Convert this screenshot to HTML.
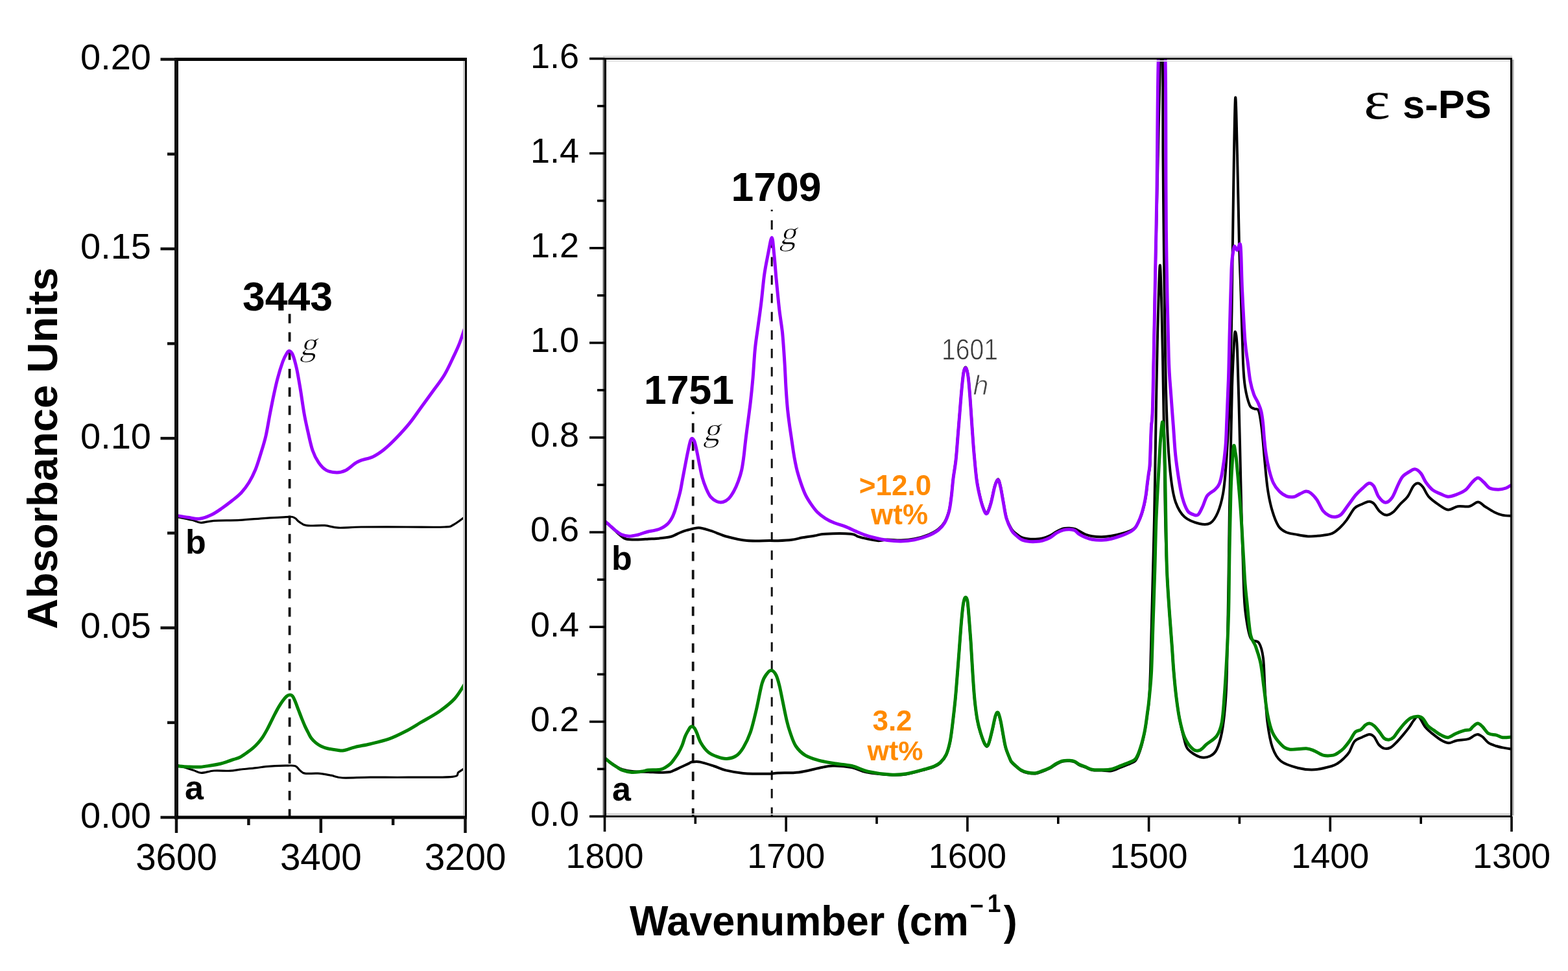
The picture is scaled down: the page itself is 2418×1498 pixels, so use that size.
<!DOCTYPE html>
<html><head><meta charset="utf-8"><title>IR spectra</title>
<style>html,body{margin:0;padding:0;background:#fff;}svg{display:block;}.s{font-family:"Liberation Sans",Arial,sans-serif;}.b{font-family:"Liberation Sans",Arial,sans-serif;font-weight:bold;}.si{font-family:"Liberation Sans",Arial,sans-serif;font-style:italic;}.r{font-family:"Liberation Serif","Times New Roman",serif;}</style></head><body>
<svg width="2418" height="1498" viewBox="0 0 2418 1498">
<rect width="2418" height="1498" fill="#fff"/>
<defs><clipPath id="cl"><rect x="272.0" y="91.5" width="445.5" height="1169.5"/></clipPath><clipPath id="cr"><rect x="932.5" y="90.5" width="1398.5" height="1169.0"/></clipPath></defs>
<g stroke="#111" fill="none" stroke-dasharray="14.5 13.8">
<line x1="446.6" y1="484.2" x2="446.6" y2="1261.0" stroke-width="3.8" stroke-dashoffset="0"/>
<line x1="1068.7" y1="635" x2="1068.7" y2="1259.5" stroke-width="3.8" stroke-dashoffset="10.5"/>
<line x1="1190.2" y1="323.6" x2="1190.2" y2="1259.5" stroke-width="3.0" stroke-dashoffset="12.1"/>
</g>
<path d="M272.0 1179.8 C274.2 1180.5 280.5 1182.5 285.0 1184.0 C289.5 1185.5 294.6 1187.1 298.9 1188.5 C303.1 1189.9 305.3 1192.3 310.5 1192.4 C315.7 1192.5 322.6 1189.5 330.0 1189.0 C337.4 1188.5 348.3 1189.5 355.0 1189.2 C361.7 1188.9 363.3 1188.0 370.0 1187.2 C376.7 1186.5 388.4 1185.5 395.1 1184.7 C401.8 1184.0 402.6 1183.3 410.1 1182.7 C417.6 1182.1 432.7 1181.4 440.2 1181.2 C447.7 1181.0 451.5 1180.5 455.2 1181.7 C458.9 1182.9 459.7 1186.3 462.2 1188.2 C464.7 1190.1 465.5 1192.4 470.2 1193.2 C474.9 1194.0 483.5 1192.7 490.2 1193.2 C496.9 1193.7 504.0 1195.1 510.3 1196.2 C516.6 1197.3 518.1 1199.5 528.2 1200.0 C538.3 1200.5 554.1 1199.3 571.0 1199.2 C587.9 1199.1 608.2 1199.4 629.3 1199.2 C650.3 1199.0 684.3 1199.6 697.3 1198.3 C710.2 1197.0 703.5 1193.8 707.0 1191.4 C710.5 1189.0 716.2 1185.2 718.0 1184.0" fill="none" stroke="#000000" stroke-width="3.2" stroke-linejoin="round" stroke-linecap="round" clip-path="url(#cl)"/>
<path d="M272.0 797.3 C276.0 798.1 289.7 800.8 296.0 802.3 C302.3 803.8 304.3 806.1 310.0 806.3 C315.7 806.5 320.0 804.0 330.0 803.3 C340.0 802.6 356.7 803.0 370.0 802.3 C383.3 801.6 397.3 800.1 410.0 799.3 C422.7 798.5 439.2 797.5 446.2 797.3 C453.1 797.0 450.1 797.3 451.7 797.8 C453.3 798.2 454.4 798.8 456.0 800.0 C457.6 801.2 458.2 803.0 461.0 804.8 C463.8 806.6 466.1 809.7 472.7 810.7 C479.3 811.7 492.6 810.1 500.8 810.7 C509.0 811.3 512.4 813.8 521.8 814.2 C531.1 814.6 539.4 813.2 556.9 813.0 C574.4 812.8 605.6 813.0 627.0 813.0 C648.4 813.0 673.3 813.6 685.4 813.0 C697.5 812.4 694.0 812.2 699.4 809.5 C704.8 806.8 714.9 798.7 718.0 796.5" fill="none" stroke="#000000" stroke-width="3.2" stroke-linejoin="round" stroke-linecap="round" clip-path="url(#cl)"/>
<path d="M272.0 1181.7 C275.0 1181.9 283.9 1182.8 290.0 1183.0 C296.1 1183.2 302.8 1183.5 308.6 1183.2 C314.4 1182.9 319.8 1181.8 325.0 1181.0 C330.2 1180.2 335.8 1179.2 340.0 1178.2 C344.2 1177.2 346.7 1176.3 350.0 1175.2 C353.3 1174.1 356.7 1172.9 360.0 1171.7 C363.3 1170.5 366.7 1169.9 370.0 1168.2 C373.3 1166.5 376.7 1164.0 380.0 1161.7 C383.3 1159.4 387.0 1156.8 390.0 1154.2 C393.0 1151.6 395.6 1148.9 398.1 1146.1 C400.6 1143.2 402.8 1140.6 405.1 1137.1 C407.4 1133.6 409.9 1129.1 412.1 1125.1 C414.3 1121.1 416.1 1117.1 418.1 1113.1 C420.1 1109.1 422.1 1104.9 424.1 1101.1 C426.1 1097.3 428.1 1093.4 430.1 1090.1 C432.1 1086.8 434.1 1083.7 436.1 1081.0 C438.1 1078.3 440.4 1075.5 442.2 1074.0 C444.0 1072.5 445.7 1072.0 447.2 1072.0 C448.7 1072.0 449.9 1072.3 451.2 1074.0 C452.5 1075.7 453.7 1078.5 455.2 1082.0 C456.7 1085.5 458.5 1090.8 460.2 1095.1 C461.9 1099.4 463.5 1103.9 465.2 1108.1 C466.9 1112.3 468.5 1116.4 470.2 1120.1 C471.9 1123.8 473.5 1126.9 475.2 1130.1 C476.9 1133.3 478.2 1136.4 480.2 1139.1 C482.2 1141.8 484.7 1144.1 487.2 1146.1 C489.7 1148.1 492.2 1149.8 495.2 1151.2 C498.2 1152.6 501.0 1153.7 505.2 1154.7 C509.4 1155.7 516.2 1156.7 520.3 1157.2 C524.4 1157.7 525.5 1158.6 530.0 1157.8 C534.5 1157.0 540.8 1154.3 547.6 1152.6 C554.4 1150.9 562.2 1149.8 571.0 1147.7 C579.8 1145.6 591.0 1143.1 600.1 1139.9 C609.2 1136.7 617.3 1132.5 625.4 1128.3 C633.5 1124.1 640.0 1119.9 648.7 1114.7 C657.5 1109.5 669.1 1103.4 677.9 1097.2 C686.6 1091.0 694.5 1085.1 701.2 1077.7 C707.9 1070.3 715.2 1057.1 718.0 1053.0" fill="none" stroke="#008200" stroke-width="5.0" stroke-linejoin="round" stroke-linecap="round" clip-path="url(#cl)"/>
<path d="M272.0 795.3 C275.0 795.8 284.0 797.5 290.0 798.3 C296.0 799.1 302.0 801.0 308.0 800.3 C314.0 799.6 320.3 797.0 326.0 794.3 C331.7 791.6 336.7 788.0 342.0 784.3 C347.3 780.6 353.0 776.3 358.0 772.3 C363.0 768.3 367.7 764.9 372.0 760.2 C376.3 755.5 380.3 750.2 384.0 744.2 C387.7 738.2 391.0 731.5 394.0 724.2 C397.0 716.9 399.3 708.9 402.0 700.2 C404.7 691.5 407.7 682.2 410.0 672.2 C412.3 662.2 414.0 650.5 416.0 640.1 C418.0 629.8 420.0 619.4 422.0 610.1 C424.0 600.8 425.7 592.8 428.0 584.1 C430.3 575.4 433.7 564.4 436.0 558.0 C438.3 551.6 440.3 548.2 442.0 545.5 C443.7 542.8 444.4 541.2 446.0 541.5 C447.6 541.8 449.6 543.0 451.5 547.5 C453.4 552.0 455.5 559.8 457.5 568.8 C459.5 577.8 461.4 589.8 463.4 601.5 C465.3 613.2 467.2 628.0 469.2 638.9 C471.1 649.8 473.0 657.6 475.1 667.0 C477.2 676.4 479.4 687.2 482.1 695.0 C484.8 702.8 487.9 708.6 491.4 713.7 C494.9 718.8 498.4 722.9 503.1 725.4 C507.8 727.9 514.4 728.9 519.5 728.9 C524.6 728.9 528.8 727.7 533.5 725.4 C538.2 723.1 543.6 717.4 547.5 714.9 C551.4 712.4 552.2 712.0 556.9 710.2 C561.6 708.5 569.7 707.1 575.5 704.4 C581.3 701.7 586.0 698.5 591.9 693.8 C597.8 689.1 604.0 683.1 610.6 676.3 C617.2 669.5 625.0 661.1 631.6 652.9 C638.2 644.7 644.1 635.8 650.3 627.2 C656.5 618.6 663.1 609.7 669.0 601.5 C674.9 593.3 680.3 586.8 685.4 578.2 C690.5 569.6 695.5 558.3 699.4 550.1 C703.3 541.9 705.7 537.1 708.8 529.1 C711.9 521.1 716.5 506.5 718.0 502.0" fill="none" stroke="#9900ff" stroke-width="5.0" stroke-linejoin="round" stroke-linecap="round" clip-path="url(#cl)"/>
<path d="M932.9 1169.5 C934.2 1170.6 938.0 1174.0 941.0 1176.2 C944.0 1178.4 947.5 1180.7 950.6 1182.5 C953.7 1184.3 955.3 1185.5 959.4 1186.8 C963.5 1188.0 968.3 1189.3 975.0 1190.0 C981.7 1190.7 992.5 1190.7 999.7 1191.0 C1006.9 1191.3 1012.6 1191.8 1018.1 1191.8 C1023.6 1191.8 1029.1 1191.6 1032.8 1191.0 C1036.5 1190.4 1037.0 1189.4 1040.1 1188.1 C1043.1 1186.8 1047.4 1184.7 1051.1 1183.0 C1054.8 1181.3 1059.5 1179.0 1062.2 1177.8 C1064.9 1176.6 1064.3 1176.0 1067.3 1175.6 C1070.3 1175.2 1074.3 1174.5 1080.0 1175.6 C1085.7 1176.7 1094.8 1179.9 1101.3 1182.0 C1107.8 1184.1 1111.8 1186.6 1119.3 1188.4 C1126.8 1190.2 1135.8 1192.0 1146.3 1192.9 C1156.8 1193.8 1173.5 1193.8 1182.4 1193.8 C1191.4 1193.8 1191.7 1193.0 1200.0 1192.6 C1208.3 1192.2 1221.7 1192.6 1232.0 1191.4 C1242.3 1190.2 1253.0 1186.9 1261.7 1185.2 C1270.4 1183.5 1275.3 1181.7 1284.0 1181.5 C1292.7 1181.3 1305.0 1182.3 1313.6 1184.0 C1322.2 1185.7 1325.9 1189.5 1335.8 1191.4 C1345.7 1193.3 1362.5 1195.0 1372.8 1195.5 C1383.1 1196.0 1388.4 1195.9 1397.5 1194.5 C1406.6 1193.1 1420.1 1188.9 1427.2 1187.0 C1434.3 1185.1 1436.2 1184.8 1440.0 1183.2 C1443.8 1181.6 1446.8 1180.2 1450.0 1177.2 C1453.2 1174.2 1456.5 1170.6 1459.0 1165.2 C1461.5 1159.8 1463.3 1153.1 1465.0 1145.1 C1466.7 1137.1 1467.7 1127.8 1469.0 1117.1 C1470.3 1106.4 1471.8 1093.1 1473.0 1081.1 C1474.2 1069.1 1475.0 1057.7 1476.0 1045.0 C1477.0 1032.3 1478.1 1018.2 1479.1 1004.9 C1480.1 991.5 1481.1 976.6 1482.1 964.9 C1483.1 953.2 1484.1 941.8 1485.1 934.8 C1486.1 927.8 1487.0 924.1 1488.1 922.8 C1489.2 921.5 1490.7 922.1 1491.7 926.8 C1492.7 931.5 1493.2 940.2 1494.1 950.9 C1495.0 961.6 1496.1 975.9 1497.1 990.9 C1498.1 1005.9 1499.1 1026.0 1500.1 1041.0 C1501.1 1056.0 1501.9 1069.4 1503.1 1081.1 C1504.3 1092.8 1505.6 1102.8 1507.1 1111.1 C1508.6 1119.4 1510.1 1124.8 1512.1 1131.1 C1514.1 1137.4 1517.1 1146.2 1519.1 1149.2 C1521.1 1152.2 1522.3 1152.9 1524.1 1149.2 C1525.9 1145.5 1528.3 1134.4 1530.1 1127.1 C1531.9 1119.8 1533.6 1109.6 1535.1 1105.1 C1536.6 1100.6 1537.8 1098.8 1539.1 1100.1 C1540.4 1101.4 1541.8 1107.3 1543.1 1113.1 C1544.4 1118.9 1545.8 1128.1 1547.1 1135.1 C1548.4 1142.1 1549.3 1148.8 1551.2 1155.2 C1553.1 1161.6 1556.7 1169.7 1558.2 1173.2 C1559.7 1176.7 1558.7 1174.6 1560.0 1176.1 C1561.3 1177.6 1563.5 1179.8 1566.0 1182.0 C1568.5 1184.2 1571.8 1187.2 1574.9 1189.0 C1578.0 1190.8 1581.2 1191.8 1584.8 1192.5 C1588.4 1193.2 1592.9 1193.9 1596.7 1193.5 C1600.5 1193.1 1603.8 1191.4 1607.6 1190.0 C1611.4 1188.6 1615.9 1186.9 1619.6 1185.0 C1623.2 1183.1 1626.2 1180.3 1629.5 1178.6 C1632.8 1176.9 1636.1 1175.3 1639.4 1174.6 C1642.7 1173.8 1646.3 1173.9 1649.3 1174.1 C1652.3 1174.3 1654.8 1174.6 1657.3 1175.6 C1659.8 1176.6 1661.4 1178.7 1664.2 1180.1 C1667.0 1181.5 1670.8 1182.7 1674.1 1184.0 C1677.4 1185.3 1679.9 1187.2 1684.1 1188.0 C1688.2 1188.8 1694.0 1188.3 1699.0 1188.5 C1704.0 1188.7 1708.8 1190.0 1713.8 1189.2 C1718.8 1188.4 1723.7 1185.6 1728.7 1183.7 C1733.7 1181.8 1739.9 1179.5 1743.6 1177.8 C1747.2 1176.1 1748.6 1175.9 1750.6 1173.8 C1752.6 1171.7 1753.8 1168.9 1755.5 1164.9 C1757.2 1160.9 1759.0 1155.4 1760.5 1150.0 C1762.0 1144.6 1763.3 1138.2 1764.5 1132.4 C1765.7 1126.7 1766.6 1120.8 1767.4 1115.5 C1768.2 1110.2 1768.7 1106.5 1769.4 1100.7 C1770.2 1094.9 1771.1 1091.6 1771.9 1080.8 C1772.7 1070.0 1773.3 1056.5 1774.0 1036.0 C1774.7 1015.5 1775.3 984.0 1776.0 958.0 C1776.7 932.0 1777.3 906.3 1778.0 880.0 C1778.7 853.7 1779.4 830.0 1780.0 800.0 C1780.6 770.0 1781.2 730.0 1781.7 700.0 C1782.2 670.0 1782.5 650.0 1783.0 620.0 C1783.5 590.0 1784.1 554.8 1785.0 520.0 C1785.9 485.2 1787.5 421.0 1788.5 411.0 C1789.5 401.0 1790.2 436.8 1791.0 460.0 C1791.8 483.2 1792.2 510.0 1793.0 550.0 C1793.8 590.0 1794.8 658.3 1795.5 700.0 C1796.2 741.7 1796.3 770.0 1797.0 800.0 C1797.7 830.0 1798.4 855.8 1799.5 880.0 C1800.6 904.2 1802.1 925.5 1803.4 945.0 C1804.7 964.5 1806.2 981.8 1807.3 997.0 C1808.4 1012.2 1808.9 1023.0 1810.0 1036.0 C1811.1 1049.0 1812.4 1063.1 1813.9 1075.3 C1815.4 1087.5 1817.0 1098.4 1819.0 1109.2 C1821.0 1120.0 1823.8 1132.2 1826.0 1140.0 C1828.2 1147.8 1828.0 1151.4 1832.0 1156.0 C1836.0 1160.6 1844.6 1166.0 1850.3 1167.8 C1856.0 1169.5 1861.7 1168.5 1866.0 1166.5 C1870.3 1164.5 1873.4 1162.1 1876.4 1156.0 C1879.4 1149.9 1882.0 1141.3 1884.2 1130.0 C1886.4 1118.7 1888.1 1103.9 1889.4 1088.3 C1890.7 1072.7 1891.2 1067.7 1892.0 1036.3 C1892.8 1004.9 1893.7 942.1 1894.4 900.0 C1895.1 857.9 1895.4 818.5 1896.0 783.5 C1896.6 748.5 1897.3 721.1 1898.0 690.0 C1898.7 658.9 1899.2 623.4 1900.0 596.7 C1900.8 570.0 1902.2 544.1 1903.0 530.0 C1903.8 515.9 1904.2 510.3 1905.0 512.0 C1905.8 513.7 1906.8 511.5 1908.0 540.0 C1909.2 568.5 1911.0 642.4 1912.0 683.0 C1913.0 723.6 1913.3 747.3 1914.3 783.5 C1915.3 819.7 1916.8 873.1 1917.8 900.0 C1918.8 926.9 1918.8 931.0 1920.6 945.0 C1922.4 959.0 1924.9 976.2 1928.4 984.0 C1931.9 991.8 1938.2 986.8 1941.5 992.0 C1944.8 997.2 1946.5 1003.7 1948.0 1015.4 C1949.5 1027.1 1949.5 1045.8 1950.6 1062.3 C1951.7 1078.8 1952.5 1099.2 1954.5 1114.4 C1956.5 1129.6 1958.8 1143.4 1962.3 1153.4 C1965.8 1163.4 1968.8 1169.1 1975.3 1174.3 C1981.8 1179.5 1992.7 1182.5 2001.4 1184.7 C2010.1 1186.9 2018.7 1187.8 2027.4 1187.3 C2036.1 1186.8 2047.5 1183.6 2053.4 1182.0 C2059.3 1180.4 2059.9 1179.5 2063.0 1177.5 C2066.1 1175.5 2069.1 1173.0 2072.0 1170.2 C2074.9 1167.4 2077.6 1165.0 2080.4 1160.6 C2083.2 1156.2 2085.6 1147.6 2088.8 1143.8 C2092.0 1140.0 2095.9 1139.5 2099.7 1137.7 C2103.5 1135.9 2108.5 1133.1 2111.7 1132.9 C2114.9 1132.7 2116.5 1133.9 2118.9 1136.5 C2121.3 1139.1 2123.5 1145.6 2126.1 1148.6 C2128.7 1151.6 2131.5 1153.8 2134.5 1154.6 C2137.5 1155.4 2140.9 1155.0 2144.1 1153.4 C2147.3 1151.8 2150.5 1148.2 2153.7 1145.0 C2156.9 1141.8 2160.2 1137.9 2163.4 1134.1 C2166.6 1130.3 2170.2 1125.9 2173.0 1122.1 C2175.8 1118.3 2177.8 1114.1 2180.2 1111.3 C2182.6 1108.5 2184.4 1103.5 2187.4 1105.3 C2190.4 1107.1 2194.4 1117.5 2198.2 1122.1 C2202.0 1126.7 2206.0 1129.5 2210.2 1132.9 C2214.4 1136.3 2219.5 1140.3 2223.5 1142.5 C2227.5 1144.7 2230.5 1146.2 2234.3 1146.2 C2238.1 1146.2 2241.3 1143.5 2246.3 1142.5 C2251.3 1141.5 2259.9 1141.3 2264.3 1140.1 C2268.7 1138.9 2270.3 1136.5 2272.7 1135.3 C2275.1 1134.1 2276.6 1132.7 2278.8 1132.9 C2281.0 1133.1 2283.2 1134.3 2286.0 1136.5 C2288.8 1138.7 2292.0 1143.8 2295.6 1146.2 C2299.2 1148.6 2304.0 1149.8 2307.6 1151.0 C2311.2 1152.2 2313.3 1152.6 2317.2 1153.4 C2321.1 1154.2 2328.7 1155.4 2331.0 1155.8" fill="none" stroke="#000000" stroke-width="4.0" stroke-linejoin="round" stroke-linecap="round" clip-path="url(#cr)"/>
<path d="M932.3 804.0 C933.6 805.2 937.5 808.6 940.2 811.0 C942.9 813.4 946.1 816.2 948.6 818.5 C951.1 820.8 952.7 822.8 955.5 825.0 C958.3 827.2 960.6 830.2 965.4 831.5 C970.1 832.8 978.2 832.5 984.0 832.5 C989.8 832.5 995.3 831.8 1000.0 831.5 C1004.7 831.2 1006.7 831.5 1012.0 831.0 C1017.3 830.5 1027.3 829.4 1032.0 828.5 C1036.7 827.6 1037.3 826.9 1040.0 825.8 C1042.7 824.7 1045.3 823.1 1048.0 822.0 C1050.7 820.9 1054.0 819.6 1056.0 818.9 C1058.0 818.2 1056.4 818.6 1060.0 817.8 C1063.6 817.0 1071.5 814.0 1077.6 814.2 C1083.6 814.4 1089.0 816.6 1096.3 818.9 C1103.6 821.2 1112.3 825.5 1121.6 828.0 C1130.9 830.5 1141.1 833.0 1152.0 834.0 C1162.9 835.0 1179.0 834.0 1187.0 834.0 C1195.0 834.0 1194.3 834.4 1200.0 834.2 C1205.7 834.0 1214.7 833.6 1221.0 832.8 C1227.3 832.0 1232.1 830.3 1237.9 829.3 C1243.8 828.2 1250.3 827.4 1256.1 826.5 C1261.9 825.6 1263.6 824.2 1272.9 823.7 C1282.2 823.2 1303.8 823.0 1312.2 823.7 C1320.6 824.4 1319.2 826.6 1323.4 827.9 C1327.6 829.2 1332.3 830.3 1337.4 831.4 C1342.5 832.5 1349.1 834.0 1354.2 834.2 C1359.3 834.4 1362.4 832.6 1368.2 832.5 C1374.0 832.4 1382.3 833.7 1389.3 833.5 C1396.3 833.3 1403.3 832.7 1410.3 831.3 C1417.3 829.9 1425.2 827.5 1431.3 825.0 C1437.4 822.5 1442.5 819.8 1446.7 816.5 C1450.9 813.2 1453.8 810.3 1456.6 805.5 C1459.4 800.7 1461.8 794.2 1463.6 787.5 C1465.3 780.8 1466.0 773.8 1467.1 765.5 C1468.2 757.2 1468.8 746.9 1470.0 737.5 C1471.2 728.1 1472.8 719.9 1474.0 709.2 C1475.2 698.5 1476.0 685.6 1477.0 673.2 C1478.0 660.9 1479.1 647.5 1480.1 635.1 C1481.1 622.8 1482.1 609.5 1483.1 599.1 C1484.1 588.8 1485.0 578.4 1486.1 573.0 C1487.2 567.6 1488.5 565.7 1489.7 567.0 C1490.9 568.3 1492.0 573.0 1493.1 581.0 C1494.2 589.0 1495.1 602.1 1496.1 615.1 C1497.1 628.1 1498.1 645.2 1499.1 659.2 C1500.1 673.2 1500.9 685.9 1502.1 699.2 C1503.3 712.6 1504.6 728.3 1506.1 739.3 C1507.6 750.3 1509.3 757.6 1511.1 765.3 C1512.9 773.0 1515.3 781.0 1517.1 785.3 C1518.9 789.6 1520.3 793.0 1522.1 791.3 C1523.9 789.6 1526.1 782.3 1528.1 775.3 C1530.1 768.3 1532.3 755.3 1534.1 749.3 C1535.9 743.3 1537.6 739.0 1539.1 739.3 C1540.6 739.6 1541.8 745.6 1543.1 751.3 C1544.4 757.0 1545.6 765.3 1547.1 773.3 C1548.6 781.3 1550.0 792.2 1552.2 799.4 C1554.4 806.6 1557.7 812.4 1560.0 816.3 C1562.3 820.1 1563.5 820.4 1566.0 822.5 C1568.5 824.6 1571.8 827.2 1574.9 828.7 C1578.0 830.2 1581.2 830.7 1584.8 831.2 C1588.4 831.7 1592.9 831.8 1596.7 831.7 C1600.5 831.6 1603.8 831.5 1607.6 830.5 C1611.4 829.5 1615.9 827.8 1619.6 826.0 C1623.2 824.2 1626.2 821.8 1629.5 820.0 C1632.8 818.2 1636.1 816.4 1639.4 815.5 C1642.7 814.6 1646.3 814.7 1649.3 814.8 C1652.3 814.9 1654.8 815.2 1657.3 816.0 C1659.8 816.8 1661.4 817.9 1664.2 819.3 C1667.0 820.7 1670.8 823.2 1674.1 824.5 C1677.4 825.8 1679.9 826.6 1684.1 827.2 C1688.2 827.8 1694.0 828.3 1699.0 828.2 C1704.0 828.1 1708.8 827.5 1713.8 826.7 C1718.8 825.9 1723.7 824.9 1728.7 823.5 C1733.7 822.1 1739.9 820.2 1743.6 818.5 C1747.2 816.8 1748.6 815.7 1750.6 813.5 C1752.6 811.3 1753.8 808.7 1755.5 805.4 C1757.2 802.1 1759.0 797.9 1760.5 793.5 C1762.0 789.1 1763.3 784.1 1764.5 779.0 C1765.7 773.9 1766.6 768.5 1767.4 763.0 C1768.2 757.5 1768.7 751.3 1769.4 746.0 C1770.1 740.7 1770.7 736.0 1771.4 731.0 C1772.1 726.0 1772.8 727.8 1773.5 716.0 C1774.2 704.2 1774.6 676.0 1775.3 660.0 C1776.0 644.0 1776.8 655.0 1777.7 620.0 C1778.7 585.0 1779.7 511.7 1781.0 450.0 C1782.3 388.3 1784.2 309.8 1785.5 250.0 C1786.8 190.2 1788.1 126.0 1789.0 91.0 C1789.9 56.0 1790.3 40.0 1791.0 40.0 C1791.7 40.0 1792.6 58.3 1793.0 91.0 C1793.4 123.7 1793.2 184.5 1793.5 236.0 C1793.8 287.5 1794.5 356.0 1795.0 400.0 C1795.5 444.0 1795.8 466.7 1796.3 500.0 C1796.8 533.3 1797.2 570.0 1798.0 600.0 C1798.8 630.0 1799.7 656.7 1801.0 680.0 C1802.3 703.3 1804.0 724.2 1806.0 740.0 C1808.0 755.8 1809.5 765.4 1813.0 775.0 C1816.5 784.6 1820.5 792.0 1826.7 797.5 C1832.9 803.0 1843.4 806.4 1850.0 808.0 C1856.6 809.6 1861.7 809.9 1866.4 807.0 C1871.1 804.1 1874.7 798.3 1878.0 790.5 C1881.3 782.7 1884.1 772.8 1886.3 760.0 C1888.5 747.2 1889.7 731.0 1891.0 713.5 C1892.3 696.0 1893.4 674.5 1894.4 655.0 C1895.4 635.5 1896.2 625.9 1897.0 596.7 C1897.8 567.5 1898.7 529.5 1899.5 480.0 C1900.3 430.6 1901.1 354.8 1902.0 300.0 C1902.9 245.2 1904.0 161.5 1905.0 151.5 C1906.0 141.5 1907.0 201.9 1908.0 240.0 C1909.0 278.1 1910.1 345.0 1911.0 380.0 C1911.9 415.0 1912.5 420.0 1913.5 450.0 C1914.5 480.0 1915.9 535.5 1917.0 560.0 C1918.1 584.5 1918.3 585.9 1920.0 596.7 C1921.7 607.5 1924.7 619.1 1927.0 624.7 C1929.3 630.4 1931.7 629.1 1934.0 630.6 C1936.3 632.1 1939.0 628.8 1941.0 634.0 C1943.0 639.2 1944.2 648.8 1945.8 662.0 C1947.4 675.2 1949.0 697.9 1950.5 713.5 C1952.0 729.1 1953.1 743.0 1955.0 755.5 C1956.9 768.0 1959.2 778.9 1962.0 788.2 C1964.8 797.6 1968.0 806.1 1971.5 811.6 C1975.0 817.1 1978.8 818.9 1983.2 821.0 C1987.6 823.1 1992.2 823.3 1997.9 824.4 C2003.6 825.5 2010.2 827.1 2017.2 827.4 C2024.2 827.6 2033.4 826.6 2039.6 825.9 C2045.8 825.1 2049.9 824.9 2054.4 822.9 C2058.9 820.9 2062.6 817.5 2066.3 814.0 C2070.0 810.5 2073.1 807.1 2076.8 802.1 C2080.5 797.1 2085.0 788.2 2088.7 784.2 C2092.4 780.2 2095.4 780.0 2099.1 778.3 C2102.8 776.6 2107.8 774.0 2111.0 773.8 C2114.2 773.5 2115.8 774.3 2118.5 776.8 C2121.2 779.3 2124.2 785.7 2127.4 788.7 C2130.6 791.7 2134.3 794.4 2137.8 794.6 C2141.3 794.9 2144.7 792.9 2148.2 790.2 C2151.7 787.5 2155.0 782.3 2158.7 778.3 C2162.4 774.3 2167.1 771.0 2170.6 766.3 C2174.1 761.6 2176.8 753.5 2179.5 750.0 C2182.2 746.5 2184.4 745.2 2186.9 745.5 C2189.4 745.8 2191.7 748.0 2194.4 751.5 C2197.1 755.0 2199.3 761.8 2203.3 766.3 C2207.3 770.8 2213.2 774.9 2218.2 778.3 C2223.2 781.6 2228.1 785.9 2233.1 786.4 C2238.1 786.9 2242.6 782.1 2248.0 781.2 C2253.4 780.3 2260.6 782.3 2265.8 781.2 C2271.0 780.1 2275.2 774.5 2279.2 774.5 C2283.2 774.5 2285.5 778.6 2289.7 781.2 C2293.9 783.8 2300.0 788.0 2304.5 790.2 C2309.0 792.4 2312.1 793.6 2316.5 794.6 C2320.9 795.6 2328.6 795.8 2331.0 796.0" fill="none" stroke="#000000" stroke-width="4.0" stroke-linejoin="round" stroke-linecap="round" clip-path="url(#cr)"/>
<path d="M932.9 1169.7 C934.2 1170.8 938.0 1174.2 941.0 1176.4 C944.0 1178.6 947.5 1181.0 950.6 1183.0 C953.7 1185.0 955.5 1186.7 959.4 1188.1 C963.3 1189.5 969.2 1191.0 974.1 1191.4 C979.0 1191.8 984.4 1190.8 988.7 1190.3 C993.0 1189.8 996.2 1188.5 999.7 1188.1 C1003.2 1187.7 1006.9 1187.9 1010.0 1187.8 C1013.1 1187.7 1015.5 1187.8 1018.1 1187.2 C1020.7 1186.6 1022.7 1186.0 1025.4 1184.4 C1028.1 1182.8 1031.8 1180.1 1034.3 1177.8 C1036.8 1175.5 1038.1 1173.2 1040.1 1170.5 C1042.0 1167.8 1044.0 1165.1 1046.0 1161.7 C1048.0 1158.3 1050.2 1154.1 1051.9 1149.9 C1053.6 1145.7 1054.8 1140.4 1056.3 1136.7 C1057.8 1133.0 1059.3 1130.4 1060.7 1127.9 C1062.1 1125.5 1063.3 1123.2 1064.4 1122.0 C1065.5 1120.8 1066.2 1120.7 1067.3 1120.9 C1068.4 1121.2 1069.8 1121.8 1071.0 1123.5 C1072.2 1125.2 1073.0 1127.0 1074.6 1130.8 C1076.2 1134.5 1077.9 1141.1 1080.8 1146.0 C1083.7 1150.9 1087.9 1156.8 1092.2 1160.4 C1096.5 1164.0 1101.9 1166.0 1106.7 1167.7 C1111.5 1169.4 1116.2 1170.7 1121.0 1170.4 C1125.8 1170.1 1131.3 1168.8 1135.5 1165.9 C1139.7 1163.0 1142.7 1159.2 1146.3 1153.2 C1149.9 1147.2 1153.9 1139.4 1157.2 1129.8 C1160.5 1120.2 1163.2 1108.1 1166.2 1095.5 C1169.2 1082.9 1172.5 1063.3 1175.2 1054.0 C1177.9 1044.7 1180.0 1043.0 1182.4 1039.7 C1184.8 1036.4 1187.2 1034.0 1189.6 1034.3 C1192.0 1034.6 1194.7 1037.5 1196.8 1041.5 C1198.9 1045.5 1200.3 1051.2 1202.0 1058.0 C1203.7 1064.8 1205.1 1073.0 1207.0 1082.0 C1208.9 1091.0 1211.4 1104.0 1213.3 1112.0 C1215.2 1120.0 1216.2 1123.5 1218.5 1130.0 C1220.8 1136.5 1223.3 1145.1 1227.2 1151.0 C1231.1 1156.9 1236.2 1161.8 1242.0 1165.4 C1247.8 1169.0 1254.3 1170.7 1261.7 1172.8 C1269.1 1174.9 1277.8 1176.3 1286.4 1177.8 C1295.1 1179.2 1304.9 1179.5 1313.6 1181.5 C1322.2 1183.5 1328.4 1187.8 1338.3 1190.1 C1348.2 1192.3 1362.9 1194.4 1372.8 1195.0 C1382.7 1195.6 1388.4 1195.2 1397.5 1193.8 C1406.6 1192.4 1420.1 1188.3 1427.2 1186.4 C1434.3 1184.5 1436.2 1184.1 1440.0 1182.4 C1443.8 1180.7 1446.8 1179.4 1450.0 1176.4 C1453.2 1173.4 1456.5 1169.8 1459.0 1164.4 C1461.5 1159.1 1463.3 1152.3 1465.0 1144.3 C1466.7 1136.3 1467.7 1127.0 1469.0 1116.3 C1470.3 1105.6 1471.8 1092.3 1473.0 1080.3 C1474.2 1068.3 1475.0 1056.9 1476.0 1044.2 C1477.0 1031.5 1478.1 1017.5 1479.1 1004.1 C1480.1 990.8 1481.1 975.8 1482.1 964.1 C1483.1 952.4 1484.1 941.0 1485.1 934.0 C1486.1 927.0 1487.0 923.3 1488.1 922.0 C1489.2 920.7 1490.7 921.3 1491.7 926.0 C1492.7 930.7 1493.2 939.4 1494.1 950.1 C1495.0 960.8 1496.1 975.1 1497.1 990.1 C1498.1 1005.1 1499.1 1025.2 1500.1 1040.2 C1501.1 1055.2 1501.9 1068.6 1503.1 1080.3 C1504.3 1092.0 1505.6 1102.0 1507.1 1110.3 C1508.6 1118.6 1510.1 1123.9 1512.1 1130.3 C1514.1 1136.7 1517.1 1145.4 1519.1 1148.4 C1521.1 1151.4 1522.3 1152.1 1524.1 1148.4 C1525.9 1144.7 1528.3 1133.7 1530.1 1126.3 C1531.9 1118.9 1533.6 1108.8 1535.1 1104.3 C1536.6 1099.8 1537.8 1098.0 1539.1 1099.3 C1540.4 1100.6 1541.8 1106.5 1543.1 1112.3 C1544.4 1118.1 1545.8 1127.3 1547.1 1134.3 C1548.4 1141.3 1549.3 1148.1 1551.2 1154.4 C1553.1 1160.8 1556.7 1168.9 1558.2 1172.4 C1559.7 1175.9 1558.7 1173.8 1560.0 1175.3 C1561.3 1176.8 1563.5 1179.0 1566.0 1181.2 C1568.5 1183.4 1571.8 1186.5 1574.9 1188.2 C1578.0 1190.0 1581.2 1191.0 1584.8 1191.7 C1588.4 1192.5 1592.9 1193.1 1596.7 1192.7 C1600.5 1192.3 1603.8 1190.6 1607.6 1189.2 C1611.4 1187.8 1615.9 1186.1 1619.6 1184.2 C1623.2 1182.3 1626.2 1179.5 1629.5 1177.8 C1632.8 1176.1 1636.1 1174.5 1639.4 1173.8 C1642.7 1173.0 1646.3 1173.1 1649.3 1173.3 C1652.3 1173.5 1654.8 1173.8 1657.3 1174.8 C1659.8 1175.8 1661.4 1177.9 1664.2 1179.3 C1667.0 1180.7 1670.8 1181.9 1674.1 1183.2 C1677.4 1184.5 1679.9 1186.5 1684.1 1187.2 C1688.2 1188.0 1694.0 1187.8 1699.0 1187.7 C1704.0 1187.6 1708.8 1187.8 1713.8 1186.7 C1718.8 1185.6 1723.7 1183.1 1728.7 1181.2 C1733.7 1179.3 1739.9 1177.0 1743.6 1175.3 C1747.2 1173.6 1748.6 1173.4 1750.6 1171.3 C1752.6 1169.2 1753.8 1166.4 1755.5 1162.4 C1757.2 1158.4 1759.0 1152.6 1760.5 1147.5 C1762.0 1142.4 1763.3 1137.1 1764.5 1131.6 C1765.7 1126.1 1766.6 1120.0 1767.4 1114.7 C1768.2 1109.4 1768.7 1105.7 1769.4 1099.9 C1770.2 1094.1 1770.9 1090.6 1771.9 1080.0 C1772.9 1069.4 1774.5 1056.6 1775.6 1036.3 C1776.6 1016.0 1777.3 984.0 1778.2 958.0 C1779.1 932.0 1780.0 906.3 1780.8 880.0 C1781.6 853.7 1782.0 824.7 1783.0 800.0 C1784.0 775.3 1785.4 752.0 1786.5 732.0 C1787.6 712.0 1788.5 693.5 1789.5 680.0 C1790.5 666.5 1791.6 652.3 1792.5 651.0 C1793.4 649.7 1794.3 660.5 1795.0 672.0 C1795.7 683.5 1796.0 698.7 1796.5 720.0 C1797.0 741.3 1797.3 773.3 1797.8 800.0 C1798.3 826.7 1798.6 855.8 1799.5 880.0 C1800.4 904.2 1802.1 925.5 1803.4 945.0 C1804.7 964.5 1806.2 981.8 1807.3 997.0 C1808.4 1012.2 1808.9 1023.0 1810.0 1036.0 C1811.1 1049.0 1812.4 1063.1 1813.9 1075.3 C1815.4 1087.5 1816.8 1098.8 1819.0 1109.2 C1821.2 1119.6 1823.4 1130.0 1826.9 1137.8 C1830.4 1145.6 1836.0 1152.8 1839.9 1156.0 C1843.8 1159.2 1846.8 1158.6 1850.3 1157.3 C1853.8 1156.0 1856.3 1151.9 1860.7 1148.2 C1865.1 1144.5 1872.5 1140.8 1876.4 1135.2 C1880.3 1129.6 1882.3 1124.4 1884.2 1114.4 C1886.1 1104.4 1886.7 1092.7 1888.0 1075.3 C1889.3 1057.9 1890.9 1031.7 1892.0 1010.0 C1893.1 988.3 1893.9 971.7 1894.6 945.0 C1895.3 918.3 1895.4 880.8 1896.0 850.0 C1896.6 819.2 1897.3 782.0 1898.0 760.0 C1898.7 738.0 1899.2 730.0 1900.0 718.0 C1900.8 706.0 1901.8 691.3 1902.6 688.0 C1903.4 684.7 1904.3 693.8 1905.0 698.0 C1905.7 702.2 1905.7 699.2 1907.0 713.5 C1908.3 727.8 1911.3 760.8 1913.0 783.5 C1914.7 806.2 1915.8 830.6 1917.0 850.0 C1918.2 869.4 1919.0 886.3 1920.0 900.0 C1921.0 913.7 1921.8 918.8 1923.2 932.0 C1924.6 945.2 1926.2 968.1 1928.4 979.0 C1930.6 989.9 1933.7 989.8 1936.3 997.2 C1938.9 1004.6 1941.8 1012.4 1944.0 1023.2 C1946.2 1034.0 1947.5 1049.3 1949.3 1062.3 C1951.0 1075.3 1952.3 1090.1 1954.5 1101.4 C1956.7 1112.7 1958.8 1122.2 1962.3 1130.0 C1965.8 1137.8 1971.0 1143.9 1975.3 1148.2 C1979.6 1152.5 1981.8 1154.9 1988.3 1156.0 C1994.8 1157.1 2007.9 1154.3 2014.4 1154.7 C2020.9 1155.1 2023.1 1156.9 2027.4 1158.6 C2031.7 1160.3 2035.6 1164.0 2040.4 1165.1 C2045.2 1166.2 2052.1 1165.8 2056.0 1165.1 C2059.9 1164.4 2061.3 1162.8 2064.0 1161.0 C2066.7 1159.2 2069.1 1157.7 2072.0 1154.6 C2074.9 1151.5 2078.6 1146.7 2081.6 1142.5 C2084.6 1138.3 2087.2 1132.1 2090.0 1129.3 C2092.8 1126.5 2095.9 1127.5 2098.5 1125.7 C2101.1 1123.9 2103.5 1120.1 2105.7 1118.5 C2107.9 1116.9 2109.5 1115.9 2111.7 1116.1 C2113.9 1116.3 2116.3 1117.5 2118.9 1119.7 C2121.5 1121.9 2124.7 1126.1 2127.3 1129.3 C2129.9 1132.5 2132.1 1137.0 2134.5 1139.0 C2136.9 1141.0 2139.3 1141.5 2141.7 1141.3 C2144.1 1141.1 2146.6 1139.9 2149.0 1137.7 C2151.4 1135.5 2153.2 1131.7 2156.0 1128.1 C2158.8 1124.5 2162.6 1119.5 2165.8 1116.1 C2169.0 1112.7 2171.8 1109.5 2175.4 1107.7 C2179.0 1105.9 2184.2 1105.1 2187.4 1105.3 C2190.6 1105.5 2192.2 1106.5 2194.6 1108.9 C2197.0 1111.3 2199.0 1116.7 2201.8 1119.7 C2204.6 1122.7 2208.0 1124.5 2211.4 1126.9 C2214.8 1129.3 2218.7 1132.3 2222.3 1134.1 C2225.9 1135.9 2229.2 1138.1 2233.0 1137.7 C2236.8 1137.3 2240.8 1133.5 2245.0 1131.7 C2249.2 1129.9 2254.7 1127.9 2258.3 1126.9 C2261.9 1125.9 2264.5 1126.7 2266.7 1125.7 C2268.9 1124.7 2269.5 1122.5 2271.5 1120.9 C2273.5 1119.3 2276.4 1116.1 2278.8 1116.1 C2281.2 1116.1 2283.2 1118.3 2286.0 1120.9 C2288.8 1123.5 2292.0 1129.5 2295.6 1131.7 C2299.2 1133.9 2304.0 1133.1 2307.6 1134.1 C2311.2 1135.1 2313.3 1137.2 2317.2 1137.7 C2321.1 1138.2 2328.7 1137.1 2331.0 1137.0" fill="none" stroke="#008200" stroke-width="5.0" stroke-linejoin="round" stroke-linecap="round" clip-path="url(#cr)"/>
<path d="M932.3 803.5 C933.6 804.7 937.5 808.1 940.2 810.5 C942.9 812.9 945.7 815.6 948.6 817.9 C951.5 820.2 954.3 822.9 957.9 824.5 C961.5 826.1 965.7 827.2 970.1 827.3 C974.5 827.4 980.5 825.8 984.1 825.0 C987.8 824.2 989.4 823.1 992.0 822.3 C994.6 821.5 997.3 820.6 1000.0 820.0 C1002.7 819.4 1005.3 819.2 1008.0 818.6 C1010.7 818.0 1013.6 817.4 1016.0 816.5 C1018.4 815.6 1020.4 814.6 1022.4 813.5 C1024.4 812.4 1026.2 811.1 1027.8 809.8 C1029.4 808.5 1030.8 807.0 1032.0 805.5 C1033.2 804.0 1034.2 802.4 1035.2 800.7 C1036.2 799.0 1037.0 797.5 1037.9 795.4 C1038.8 793.3 1039.8 790.7 1040.6 788.4 C1041.4 786.1 1042.0 783.9 1042.7 781.5 C1043.4 779.1 1044.1 776.6 1044.8 774.0 C1045.5 771.4 1046.2 769.1 1047.0 766.0 C1047.8 762.9 1048.7 760.0 1049.6 755.5 C1050.5 751.0 1051.4 745.5 1052.6 739.0 C1053.8 732.5 1055.5 723.8 1056.9 716.4 C1058.3 709.0 1059.9 700.8 1061.2 694.7 C1062.5 688.6 1063.7 683.0 1064.7 680.0 C1065.7 677.0 1066.3 676.4 1067.3 676.5 C1068.3 676.6 1069.6 677.8 1070.8 680.8 C1072.0 683.8 1073.0 688.8 1074.3 694.7 C1075.6 700.6 1077.2 709.5 1078.6 716.4 C1080.0 723.3 1081.2 730.2 1082.9 736.4 C1084.6 742.6 1086.8 748.7 1089.0 753.7 C1091.2 758.8 1093.2 763.4 1095.9 766.7 C1098.7 770.0 1102.3 772.4 1105.5 773.7 C1108.7 775.0 1112.0 775.2 1115.0 774.5 C1118.0 773.8 1121.0 772.0 1123.7 769.3 C1126.5 766.5 1129.0 762.5 1131.5 758.0 C1134.0 753.5 1136.5 747.9 1138.5 742.4 C1140.5 736.9 1142.3 731.6 1143.7 725.1 C1145.1 718.6 1146.0 711.4 1147.1 703.4 C1148.1 695.4 1148.3 691.5 1150.0 677.4 C1151.7 663.3 1155.7 634.3 1157.5 618.7 C1159.3 603.1 1159.8 597.2 1161.0 583.6 C1162.2 570.0 1163.1 550.6 1164.5 537.0 C1165.9 523.4 1167.6 513.6 1169.2 501.9 C1170.8 490.2 1172.4 479.6 1173.9 466.8 C1175.5 454.0 1176.8 437.3 1178.5 424.8 C1180.2 412.3 1182.5 401.7 1184.4 392.0 C1186.4 382.3 1188.7 366.4 1190.2 366.4 C1191.8 366.4 1192.5 381.1 1193.7 392.0 C1194.9 402.9 1195.8 417.4 1197.2 431.8 C1198.6 446.2 1200.3 464.9 1201.9 478.5 C1203.5 492.1 1205.2 500.0 1206.6 513.6 C1207.9 527.2 1209.1 546.2 1210.0 560.3 C1210.9 574.4 1211.3 586.7 1212.0 598.0 C1212.7 609.3 1213.4 619.0 1214.2 628.0 C1215.0 637.0 1216.0 644.2 1217.0 652.0 C1218.0 659.8 1219.2 667.5 1220.3 675.0 C1221.4 682.5 1222.5 690.5 1223.5 697.0 C1224.5 703.5 1225.5 709.0 1226.5 714.0 C1227.5 719.0 1228.0 721.7 1229.4 726.9 C1230.8 732.1 1232.9 739.0 1235.0 745.1 C1237.1 751.2 1239.5 758.0 1242.1 763.4 C1244.7 768.8 1247.5 773.0 1250.5 777.4 C1253.5 781.8 1256.6 786.3 1260.3 790.0 C1264.0 793.7 1268.5 797.0 1272.9 799.8 C1277.3 802.6 1281.8 804.7 1286.9 806.8 C1292.0 808.9 1298.3 810.3 1303.7 812.4 C1309.1 814.5 1314.3 817.3 1319.2 819.4 C1324.1 821.5 1328.5 823.5 1333.2 825.1 C1337.9 826.8 1341.4 827.9 1347.2 829.3 C1353.0 830.7 1361.2 832.6 1368.2 833.5 C1375.2 834.4 1382.3 835.0 1389.3 834.9 C1396.3 834.8 1403.3 834.2 1410.3 832.8 C1417.3 831.4 1425.2 829.0 1431.3 826.5 C1437.4 824.0 1442.5 821.3 1446.7 818.0 C1450.9 814.7 1453.8 811.7 1456.6 806.8 C1459.4 801.9 1461.8 795.4 1463.6 788.6 C1465.3 781.8 1466.0 774.6 1467.1 766.2 C1468.2 757.8 1468.8 747.4 1470.0 738.1 C1471.2 728.8 1472.8 720.9 1474.0 710.2 C1475.2 699.6 1476.0 686.6 1477.0 674.2 C1478.0 661.9 1479.1 648.5 1480.1 636.1 C1481.1 623.8 1482.1 610.5 1483.1 600.1 C1484.1 589.8 1485.0 579.4 1486.1 574.0 C1487.2 568.6 1488.5 566.7 1489.7 568.0 C1490.9 569.3 1492.0 574.0 1493.1 582.0 C1494.2 590.0 1495.1 603.1 1496.1 616.1 C1497.1 629.1 1498.1 646.2 1499.1 660.2 C1500.1 674.2 1500.9 686.9 1502.1 700.2 C1503.3 713.6 1504.6 729.3 1506.1 740.3 C1507.6 751.3 1509.3 758.6 1511.1 766.3 C1512.9 774.0 1515.3 782.0 1517.1 786.3 C1518.9 790.6 1520.3 794.0 1522.1 792.3 C1523.9 790.6 1526.1 783.3 1528.1 776.3 C1530.1 769.3 1532.3 756.3 1534.1 750.3 C1535.9 744.3 1537.6 740.0 1539.1 740.3 C1540.6 740.6 1541.8 746.6 1543.1 752.3 C1544.4 758.0 1545.6 766.3 1547.1 774.3 C1548.6 782.3 1550.0 793.1 1552.2 800.4 C1554.4 807.7 1557.7 814.2 1560.0 818.3 C1562.3 822.4 1563.5 822.9 1566.0 825.2 C1568.5 827.5 1571.8 830.6 1574.9 832.2 C1578.0 833.9 1581.2 834.5 1584.8 835.1 C1588.4 835.7 1592.9 835.8 1596.7 835.6 C1600.5 835.4 1603.8 835.2 1607.6 834.1 C1611.4 833.0 1615.9 831.2 1619.6 829.2 C1623.2 827.2 1626.2 824.1 1629.5 822.2 C1632.8 820.3 1636.1 818.7 1639.4 817.8 C1642.7 816.9 1646.3 816.7 1649.3 816.8 C1652.3 816.9 1654.8 817.1 1657.3 818.3 C1659.8 819.5 1661.4 822.4 1664.2 824.2 C1667.0 826.0 1670.8 827.9 1674.1 829.2 C1677.4 830.5 1679.9 831.5 1684.1 832.2 C1688.2 832.9 1694.0 833.4 1699.0 833.2 C1704.0 833.0 1708.8 832.3 1713.8 831.2 C1718.8 830.1 1723.7 828.5 1728.7 826.7 C1733.7 824.9 1739.9 822.3 1743.6 820.2 C1747.2 818.1 1748.6 816.8 1750.6 814.3 C1752.6 811.8 1753.8 809.0 1755.5 805.4 C1757.2 801.8 1759.0 797.1 1760.5 792.5 C1762.0 787.9 1763.3 782.7 1764.5 777.6 C1765.7 772.5 1766.6 767.2 1767.4 761.7 C1768.2 756.2 1768.7 750.1 1769.4 744.8 C1770.1 739.5 1770.8 734.9 1771.4 729.9 C1772.0 724.9 1772.6 726.6 1773.2 715.0 C1773.8 703.4 1774.5 675.8 1775.3 660.0 C1776.0 644.2 1776.6 663.3 1777.7 620.0 C1778.8 576.7 1781.0 454.4 1782.0 400.0 C1783.0 345.6 1783.3 345.2 1784.0 293.7 C1784.7 242.2 1785.0 134.9 1786.3 91.0 C1787.5 47.1 1789.7 30.0 1791.5 30.0 C1793.3 30.0 1795.9 47.2 1797.0 91.0 C1798.1 134.8 1797.7 241.5 1798.0 293.0 C1798.3 344.5 1798.3 357.2 1799.0 400.0 C1799.7 442.8 1801.1 515.3 1802.2 550.0 C1803.3 584.7 1804.5 590.9 1805.7 608.4 C1806.9 625.9 1808.0 639.4 1809.2 655.0 C1810.4 670.6 1811.3 688.2 1812.7 701.8 C1814.1 715.4 1815.7 725.9 1817.4 736.8 C1819.2 747.7 1820.9 758.6 1823.2 767.2 C1825.5 775.8 1828.5 783.7 1831.4 788.2 C1834.3 792.7 1838.0 793.0 1840.7 794.0 C1843.4 795.0 1845.4 796.1 1847.7 794.0 C1850.0 791.9 1852.4 786.1 1854.7 781.2 C1857.0 776.3 1858.6 769.1 1861.7 764.8 C1864.8 760.5 1870.3 758.6 1873.4 755.5 C1876.5 752.4 1878.5 750.9 1880.4 746.2 C1882.3 741.5 1883.4 736.9 1885.0 727.5 C1886.6 718.1 1888.6 704.0 1889.8 690.0 C1891.0 676.0 1891.2 660.9 1892.0 643.4 C1892.8 625.9 1893.7 605.6 1894.4 585.0 C1895.1 564.4 1895.2 548.2 1896.0 520.0 C1896.8 491.8 1898.1 437.7 1899.0 416.0 C1899.9 394.3 1900.8 396.0 1901.5 390.0 C1902.2 384.0 1902.4 380.7 1903.5 380.0 C1904.6 379.3 1906.4 386.1 1908.0 386.0 C1909.6 385.9 1911.7 369.2 1913.0 379.5 C1914.3 389.8 1914.4 423.6 1915.6 448.0 C1916.8 472.4 1918.5 507.3 1920.0 526.0 C1921.5 544.7 1923.0 549.7 1924.3 560.0 C1925.6 570.3 1926.5 579.9 1928.0 588.0 C1929.5 596.1 1931.6 603.0 1933.6 608.6 C1935.6 614.2 1938.3 617.3 1940.2 621.7 C1942.1 626.1 1943.7 629.5 1944.9 634.8 C1946.2 640.1 1946.9 646.6 1947.7 653.5 C1948.5 660.4 1948.7 668.1 1949.5 675.9 C1950.3 683.7 1951.0 692.1 1952.3 700.2 C1953.5 708.3 1955.1 717.0 1957.0 724.5 C1958.9 732.0 1960.9 739.4 1963.6 745.0 C1966.2 750.6 1969.5 754.7 1972.9 758.1 C1976.3 761.5 1980.4 764.2 1984.1 765.6 C1987.8 767.0 1991.9 767.1 1995.3 766.5 C1998.7 765.9 2001.6 763.3 2004.7 761.9 C2007.8 760.5 2011.2 758.3 2014.0 758.1 C2016.8 757.9 2018.7 758.7 2021.5 760.9 C2024.3 763.1 2027.7 766.7 2030.8 771.2 C2033.9 775.7 2037.1 784.0 2040.2 788.0 C2043.3 792.0 2046.4 793.9 2049.5 795.5 C2052.6 797.1 2055.8 797.7 2058.9 797.4 C2062.0 797.1 2064.8 796.7 2068.2 793.6 C2071.6 790.5 2075.7 783.7 2079.4 778.7 C2083.2 773.7 2087.3 767.8 2090.7 763.7 C2094.1 759.7 2096.6 757.4 2100.0 754.4 C2103.4 751.4 2107.9 746.2 2111.0 745.5 C2114.1 744.8 2116.0 746.5 2118.5 750.0 C2121.0 753.5 2122.9 762.1 2125.9 766.3 C2128.9 770.5 2132.8 775.0 2136.3 775.3 C2139.8 775.5 2143.5 772.3 2146.7 767.8 C2149.9 763.3 2153.0 754.0 2155.7 748.5 C2158.4 743.0 2160.1 738.6 2163.1 735.1 C2166.1 731.6 2170.3 729.5 2173.5 727.6 C2176.7 725.7 2179.5 723.4 2182.5 723.9 C2185.5 724.4 2188.7 727.2 2191.4 730.6 C2194.1 734.0 2195.8 739.8 2198.8 744.0 C2201.8 748.2 2205.6 752.9 2209.3 755.9 C2213.0 758.9 2217.2 760.2 2221.2 761.9 C2225.2 763.6 2229.1 766.0 2233.1 766.3 C2237.1 766.5 2240.5 765.1 2245.0 763.4 C2249.5 761.7 2255.7 759.1 2259.9 755.9 C2264.1 752.7 2267.1 747.1 2270.3 744.0 C2273.5 740.9 2276.2 737.3 2279.2 737.3 C2282.2 737.3 2285.2 741.4 2288.2 744.0 C2291.2 746.6 2293.4 751.1 2297.1 753.0 C2300.8 754.9 2306.3 755.2 2310.5 755.2 C2314.7 755.2 2319.0 754.2 2322.4 753.0 C2325.8 751.8 2329.6 748.8 2331.0 748.0" fill="none" stroke="#9900ff" stroke-width="5.0" stroke-linejoin="round" stroke-linecap="round" clip-path="url(#cr)"/>
<g fill="none">
<line x1="715.5" y1="94" x2="715.5" y2="1258" stroke="#cbcbcb" stroke-width="3"/>
<line x1="718.5" y1="89" x2="718.5" y2="1263.5" stroke="#000" stroke-width="3"/>
<line x1="272" y1="89" x2="272" y2="1263.5" stroke="#111" stroke-width="6"/>
<line x1="269" y1="91.5" x2="720" y2="91.5" stroke="#050505" stroke-width="5"/>
<line x1="269" y1="1261" x2="720" y2="1261" stroke="#050505" stroke-width="5"/>
</g>
<g stroke="#111" stroke-width="4.5">
<line x1="247.5" y1="1261.0" x2="272.0" y2="1261.0"/>
<line x1="247.5" y1="968.6" x2="272.0" y2="968.6"/>
<line x1="247.5" y1="676.2" x2="272.0" y2="676.2"/>
<line x1="247.5" y1="383.9" x2="272.0" y2="383.9"/>
<line x1="247.5" y1="91.5" x2="272.0" y2="91.5"/>
<line x1="258" y1="1114.8" x2="272.0" y2="1114.8"/>
<line x1="258" y1="822.4" x2="272.0" y2="822.4"/>
<line x1="258" y1="530.1" x2="272.0" y2="530.1"/>
<line x1="258" y1="237.7" x2="272.0" y2="237.7"/>
<line x1="272.0" y1="1261.0" x2="272.0" y2="1285"/>
<line x1="494.8" y1="1261.0" x2="494.8" y2="1285"/>
<line x1="717.5" y1="1261.0" x2="717.5" y2="1285"/>
<line x1="383.4" y1="1261.0" x2="383.4" y2="1273"/>
<line x1="606.1" y1="1261.0" x2="606.1" y2="1273"/>
</g>
<g fill="none">
<line x1="930.8" y1="92" x2="930.8" y2="1258" stroke="#606060" stroke-width="2.4"/>
<line x1="930" y1="87" x2="2332" y2="87" stroke="#d4d4d4" stroke-width="2"/>
<line x1="935" y1="94" x2="2329" y2="94" stroke="#e0e0e0" stroke-width="2"/>
<line x1="935" y1="1256" x2="2329" y2="1256" stroke="#c8c8c8" stroke-width="2"/>
<line x1="930" y1="1263" x2="2332" y2="1263" stroke="#e4e4e4" stroke-width="2"/>
<line x1="2333.3" y1="92" x2="2333.3" y2="1258" stroke="#aaaaaa" stroke-width="2.4"/>
<line x1="933.5" y1="89" x2="933.5" y2="1261" stroke="#000" stroke-width="3"/>
<line x1="2330.5" y1="89" x2="2330.5" y2="1261" stroke="#000" stroke-width="3"/>
<line x1="932" y1="90.5" x2="2332" y2="90.5" stroke="#000" stroke-width="3"/>
<line x1="932" y1="1259.5" x2="2332" y2="1259.5" stroke="#000" stroke-width="3"/>
</g>
<g stroke="#000" stroke-width="3.6">
<line x1="909" y1="1259.5" x2="932.5" y2="1259.5"/>
<line x1="909" y1="1113.4" x2="932.5" y2="1113.4"/>
<line x1="909" y1="967.2" x2="932.5" y2="967.2"/>
<line x1="909" y1="821.1" x2="932.5" y2="821.1"/>
<line x1="909" y1="675.0" x2="932.5" y2="675.0"/>
<line x1="909" y1="528.9" x2="932.5" y2="528.9"/>
<line x1="909" y1="382.7" x2="932.5" y2="382.7"/>
<line x1="909" y1="236.6" x2="932.5" y2="236.6"/>
<line x1="909" y1="90.5" x2="932.5" y2="90.5"/>
<line x1="921" y1="1186.4" x2="932.5" y2="1186.4"/>
<line x1="921" y1="1040.3" x2="932.5" y2="1040.3"/>
<line x1="921" y1="894.2" x2="932.5" y2="894.2"/>
<line x1="921" y1="748.1" x2="932.5" y2="748.1"/>
<line x1="921" y1="601.9" x2="932.5" y2="601.9"/>
<line x1="921" y1="455.8" x2="932.5" y2="455.8"/>
<line x1="921" y1="309.7" x2="932.5" y2="309.7"/>
<line x1="921" y1="163.6" x2="932.5" y2="163.6"/>
<line x1="932.5" y1="1259.5" x2="932.5" y2="1283"/>
<line x1="1212.2" y1="1259.5" x2="1212.2" y2="1283"/>
<line x1="1491.9" y1="1259.5" x2="1491.9" y2="1283"/>
<line x1="1771.6" y1="1259.5" x2="1771.6" y2="1283"/>
<line x1="2051.3" y1="1259.5" x2="2051.3" y2="1283"/>
<line x1="2331.0" y1="1259.5" x2="2331.0" y2="1283"/>
<line x1="1072.3" y1="1259.5" x2="1072.3" y2="1271"/>
<line x1="1352.0" y1="1259.5" x2="1352.0" y2="1271"/>
<line x1="1631.8" y1="1259.5" x2="1631.8" y2="1271"/>
<line x1="1911.4" y1="1259.5" x2="1911.4" y2="1271"/>
<line x1="2191.2" y1="1259.5" x2="2191.2" y2="1271"/>
</g>
<text class="s" font-size="56" x="233" y="1276.5" text-anchor="end">0.00</text>
<text class="s" font-size="56" x="233" y="984.1" text-anchor="end">0.05</text>
<text class="s" font-size="56" x="233" y="691.8" text-anchor="end">0.10</text>
<text class="s" font-size="56" x="233" y="399.4" text-anchor="end">0.15</text>
<text class="s" font-size="56" x="233" y="107.0" text-anchor="end">0.20</text>
<text class="s" font-size="56.5" x="272.0" y="1342" text-anchor="middle">3600</text>
<text class="s" font-size="56.5" x="494.8" y="1342" text-anchor="middle">3400</text>
<text class="s" font-size="56.5" x="717.5" y="1342" text-anchor="middle">3200</text>
<text class="s" font-size="54" x="893" y="1273.8" text-anchor="end">0.0</text>
<text class="s" font-size="54" x="893" y="1127.7" text-anchor="end">0.2</text>
<text class="s" font-size="54" x="893" y="981.5" text-anchor="end">0.4</text>
<text class="s" font-size="54" x="893" y="835.4" text-anchor="end">0.6</text>
<text class="s" font-size="54" x="893" y="689.3" text-anchor="end">0.8</text>
<text class="s" font-size="54" x="893" y="543.2" text-anchor="end">1.0</text>
<text class="s" font-size="54" x="893" y="397.0" text-anchor="end">1.2</text>
<text class="s" font-size="54" x="893" y="250.9" text-anchor="end">1.4</text>
<text class="s" font-size="54" x="893" y="104.8" text-anchor="end">1.6</text>
<text class="s" font-size="54" x="932.5" y="1338.7" text-anchor="middle">1800</text>
<text class="s" font-size="54" x="1212.2" y="1338.7" text-anchor="middle">1700</text>
<text class="s" font-size="54" x="1491.9" y="1338.7" text-anchor="middle">1600</text>
<text class="s" font-size="54" x="1771.6" y="1338.7" text-anchor="middle">1500</text>
<text class="s" font-size="54" x="2051.3" y="1338.7" text-anchor="middle">1400</text>
<text class="s" font-size="54" x="2331.0" y="1338.7" text-anchor="middle">1300</text>
<text class="b" x="443.5" y="478.8" font-size="62.5" text-anchor="middle">3443</text>
<text class="b" x="1062.5" y="623" font-size="62.5" text-anchor="middle">1751</text>
<text class="b" x="1197" y="310" font-size="62.5" text-anchor="middle">1709</text>
<text class="s" x="1495.5" y="554.5" font-size="46" fill="#3a3a3a" stroke="#fff" stroke-width="0.8" text-anchor="middle" textLength="87" lengthAdjust="spacingAndGlyphs">1601</text>
<text class="r" font-size="52" stroke="#fff" stroke-width="1.1" transform="translate(462.0 548.0) skewX(-14)">g</text>
<text class="r" font-size="52" stroke="#fff" stroke-width="1.1" transform="translate(1084.0 679.5) skewX(-14)">g</text>
<text class="r" font-size="52" stroke="#fff" stroke-width="1.1" transform="translate(1201.5 376.5) skewX(-14)">g</text>
<text class="si" x="1500.5" y="609" font-size="43" fill="#444" stroke="#fff" stroke-width="1.0">h</text>
<text class="b" x="286" y="854" font-size="52">b</text>
<text class="b" x="285" y="1233" font-size="52">a</text>
<text class="b" x="943" y="879" font-size="52">b</text>
<text class="b" x="944" y="1235" font-size="52">a</text>
<text class="b" x="1380.5" y="763.5" font-size="44" fill="#ff8a00" text-anchor="middle">&gt;12.0</text>
<text class="b" x="1387" y="809" font-size="44" fill="#ff8a00" text-anchor="middle">wt%</text>
<text class="b" x="1376" y="1126.5" font-size="44" fill="#ff8a00" text-anchor="middle">3.2</text>
<text class="b" x="1380.5" y="1172.5" font-size="43" fill="#ff8a00" text-anchor="middle">wt%</text>
<text class="r" font-size="84" transform="translate(2103 183) scale(1.16 1)">&#949;</text>
<text class="b" x="2163" y="181.5" font-size="61.5">s-PS</text>
<text class="b" font-size="65.2" text-anchor="middle" transform="translate(88,691.5) rotate(-90)">Absorbance Units</text>
<text class="b" font-size="64.5" transform="translate(971 1443.3) scale(0.977 1)">Wavenumber (cm<tspan class="s" font-size="37" dy="-33.5" dx="2">&#8722;</tspan><tspan class="s" font-size="38" dy="-2.5" dx="6">1</tspan><tspan dy="36" dx="4.5">)</tspan></text>
</svg></body></html>
